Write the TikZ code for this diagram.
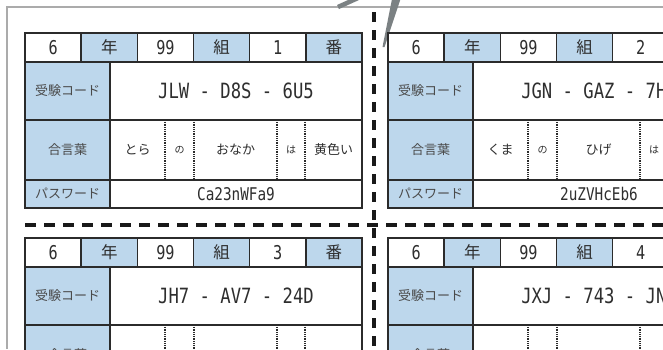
\documentclass[tikz,border=0pt]{standalone}
\usepackage{fontspec}
\setmainfont{Noto Sans CJK JP}
\newfontfamily\codefont[FakeStretch=0.82]{DejaVu Sans Mono}
\newfontfamily\headfont[FakeStretch=0.8]{DejaVu Sans Mono}
\definecolor{cardblue}{HTML}{BDD7EC}
\definecolor{cardline}{HTML}{2B2B2B}
\definecolor{cardtext}{HTML}{2E2E2E}
\definecolor{labelgray}{HTML}{4A4A4A}
\definecolor{framegray}{HTML}{ABABAB}
\definecolor{zoomgray}{HTML}{7B8183}
\begin{document}
\begin{tikzpicture}[
            x=1pt, y=-1pt,
            cell/.style={draw=cardline, line width=1.6pt, outer sep=0pt, inner sep=0pt, anchor=north west, fill=white, text=cardtext},
            bluecell/.style={cell, fill=cardblue, text=labelgray, font=\fontsize{13}{13}\selectfont},
            headcell/.style={cell, minimum width=56.17pt, minimum height=29pt, font=\headfont\fontsize{19}{19}\selectfont},
            headblue/.style={cell, fill=cardblue, minimum width=56.17pt, minimum height=29pt, font=\fontsize{16.5}{16.5}\selectfont},
            wordcell/.style={outer sep=0pt, inner sep=0pt, anchor=north west, minimum height=60pt, text=cardtext, font=\fontsize{13}{13}\selectfont},
            particle/.style={wordcell, font=\fontsize{10}{10}\selectfont},
            wordsep/.style={draw=cardline, line width=1.6pt, dash pattern=on 1pt off 0.8pt},
            cutline/.style={draw=black!90, line width=3.5pt},
            ]
        \useasboundingbox (0,0) rectangle (663,349);
        \clip (0,0) rectangle (663,349);
        \fill[white] (0,0) rectangle (663,349);
        % page frame and zoom marks
        \draw[framegray, line width=1.5pt] (7,349) -- (7,7) -- (663,7);
        \draw[zoomgray, line width=4.5pt] (338,7) -- (358,-2);
        \fill[zoomgray] (382.5,47) -- (384.5,47) -- (400.5,-1) -- (392,-1) -- cycle;
        % cut lines
        \coordinate (cutv-a) at (374,12);
        \coordinate (cutv-b) at (374,349);
        \coordinate (cuth-a) at (25,225);
        \coordinate (cuth-b) at (663,225);
        \draw[cutline, dash pattern=on 10pt off 8pt] (cutv-a) -- (cutv-b);
        \draw[cutline, dash pattern=on 11pt off 8pt] (cuth-a) -- (cuth-b);
        % cards
        \foreach \X/\Y/\k/\bn/\cardcode/\wordA/\wordB/\wordC/\wordD/\wordE in {
                25/33/1/番/JLW - D8S - 6U5/とら/の/おなか/は/黄色い,
                388/33/2/{}/JGN - GAZ - 7H\phantom{0}/くま/の/ひげ/は/{},
                25/238/3/番/JH7 - AV7 - 24D/{}/{}/{}/{}/{},
                388/238/4/{}/JXJ - 743 - JN\phantom{0}/{}/{}/{}/{}/{}} {
            \foreach \c/\t/\s in {0/6/headcell, 1/年/headblue, 2/99/headcell, 3/組/headblue, 4/\k/headcell, 5/\bn/headblue}
                \node[\s] (c\k-h\c) at (\X+\c*56.17,\Y) {\t};
            \node[bluecell, minimum width=85pt, minimum height=58pt] (c\k-codel) at (\X,\Y+29) {受験コード};
            \node[cell, minimum width=252pt, minimum height=58pt, font=\codefont\fontsize{21}{21}\selectfont] (c\k-code) at (\X+85,\Y+29) {\cardcode};
            \node[bluecell, minimum width=85pt, minimum height=60pt] (c\k-wordl) at (\X,\Y+87) {合言葉};
            \node[cell, minimum width=252pt, minimum height=60pt] (c\k-words) at (\X+85,\Y+87) {};
            \node[wordcell, minimum width=55pt] (c\k-w1) at (\X+85,\Y+87) {\wordA};
            \node[particle, minimum width=29pt] (c\k-w2) at (\X+140,\Y+87) {\wordB};
            \node[wordcell, minimum width=83pt] (c\k-w3) at (\X+169,\Y+87) {\wordC};
            \node[particle, minimum width=28pt] (c\k-w4) at (\X+252,\Y+87) {\wordD};
            \node[wordcell, minimum width=57pt] (c\k-w5) at (\X+280,\Y+87) {\wordE};
            \foreach \w in {1,...,4}
                \draw[wordsep] (c\k-w\w.north east) -- (c\k-w\w.south east);
        }
        % password rows
        \foreach \X/\Y/\k/\pw in {25/33/1/Ca23nWFa9, 388/33/2/2uZVHcEb6} {
            \node[bluecell, minimum width=85pt, minimum height=28pt] (c\k-pwl) at (\X,\Y+147) {パスワード};
            \node[cell, minimum width=252pt, minimum height=28pt, font=\codefont\fontsize{17.5}{17.5}\selectfont] (c\k-pw) at (\X+85,\Y+147) {\pw};
        }
\end{tikzpicture}
\end{document}
